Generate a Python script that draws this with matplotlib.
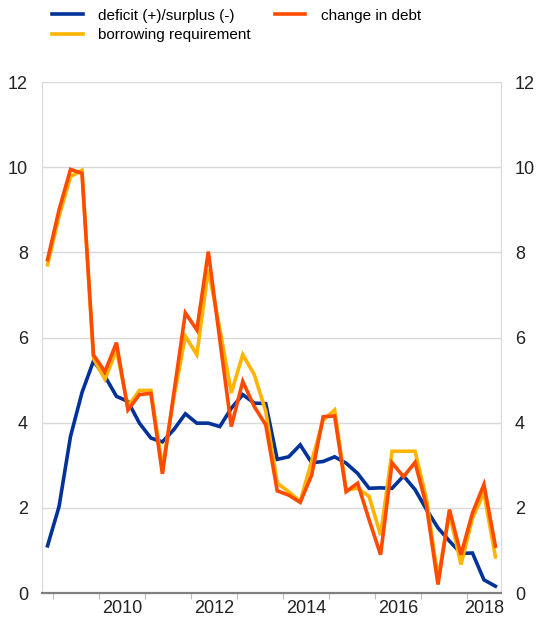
import numpy as np
import matplotlib
matplotlib.use("Agg")
from matplotlib import pyplot as plt

# quarterly observations, 2008Q4 .. 2018Q3
deficit = [1.11, 2.03, 3.68, 4.71, 5.45, 5.09, 4.62, 4.50, 3.99, 3.64,
           3.55, 3.84, 4.21, 3.99, 3.99, 3.91, 4.34, 4.66, 4.46, 4.45,
           3.14, 3.20, 3.48, 3.06, 3.09, 3.20, 3.05, 2.81, 2.46, 2.47,
           2.46, 2.75, 2.43, 1.96, 1.53, 1.22, 0.93, 0.94, 0.31, 0.16]
borrowing = [7.71, 8.85, 9.78, 9.93, 5.51, 5.02, 5.71, 4.38, 4.76, 4.76,
             2.95, 4.60, 6.03, 5.60, 7.60, 6.20, 4.70, 5.60, 5.13, 4.27,
             2.58, 2.38, 2.15, 3.10, 4.06, 4.30, 2.42, 2.46, 2.27, 1.36,
             3.33, 3.33, 3.33, 2.20, 0.35, 1.88, 0.67, 1.76, 2.35, 0.85]
debt = [7.83, 9.00, 9.95, 9.86, 5.59, 5.20, 5.88, 4.30, 4.66, 4.69,
        2.80, 4.70, 6.58, 6.18, 8.02, 5.95, 3.91, 4.97, 4.38, 3.95,
        2.40, 2.30, 2.13, 2.77, 4.14, 4.16, 2.38, 2.58, 1.72, 0.90,
        3.06, 2.73, 3.07, 2.04, 0.20, 1.96, 0.90, 1.88, 2.55, 1.10]
year_labels = ["2010", "2012", "2014", "2016", "2018"]
year_label_pos = [6.5, 14.5, 22.5, 30.5, 38.0]

plt.rcParams["font.family"] = ["Liberation Sans", "DejaVu Sans"]

fig = plt.figure(figsize=(5.36, 6.2), dpi=100)
ax = fig.add_axes([0.078, 0.0435, 0.857, 0.824])

x = np.arange(len(deficit))
ax.plot(x, deficit, color="#003299", lw=2.6, label="deficit (+)/surplus (-)", solid_joinstyle="miter")
ax.plot(x, borrowing, color="#FFB400", lw=2.6, label="borrowing requirement", solid_joinstyle="miter")
ax.plot(x, debt, color="#FF4B00", lw=2.6, label="change in debt", solid_joinstyle="miter")

ax.set_xlim(-0.5, len(deficit) - 0.5)
ax.set_ylim(0, 12)
ax.set_yticks(np.arange(0, 13, 2))
ax.yaxis.grid(True, color="#d9d9d9", lw=1)
ax.set_axisbelow(True)
ax.tick_params(axis="y", length=0, labelsize=13, labelleft=True, labelright=True, pad=10, colors="#222222")

ax.set_xticks(year_label_pos)
ax.set_xticklabels(year_labels)
ax.set_xticks(np.arange(0.5, len(deficit), 4), minor=True)
ax.tick_params(axis="x", which="major", length=0, labelsize=13, pad=5, colors="#222222")
ax.tick_params(axis="x", which="minor", length=4, width=0.8, color="#bbbbbb")

for side in ["left", "right", "top"]:
    ax.spines[side].set_color("#d9d9d9")
ax.spines["top"].set_visible(False)
ax.spines["bottom"].set_color("#808080")
ax.spines["bottom"].set_linewidth(1.6)

fig.legend(loc="upper left", bbox_to_anchor=(0.097, 0.986), ncol=2, frameon=False,
           fontsize=11, handlelength=2.0, handletextpad=1.0, columnspacing=1.6,
           labelspacing=0.35, borderpad=0, borderaxespad=0)

fig.savefig("out.png", dpi=100)
